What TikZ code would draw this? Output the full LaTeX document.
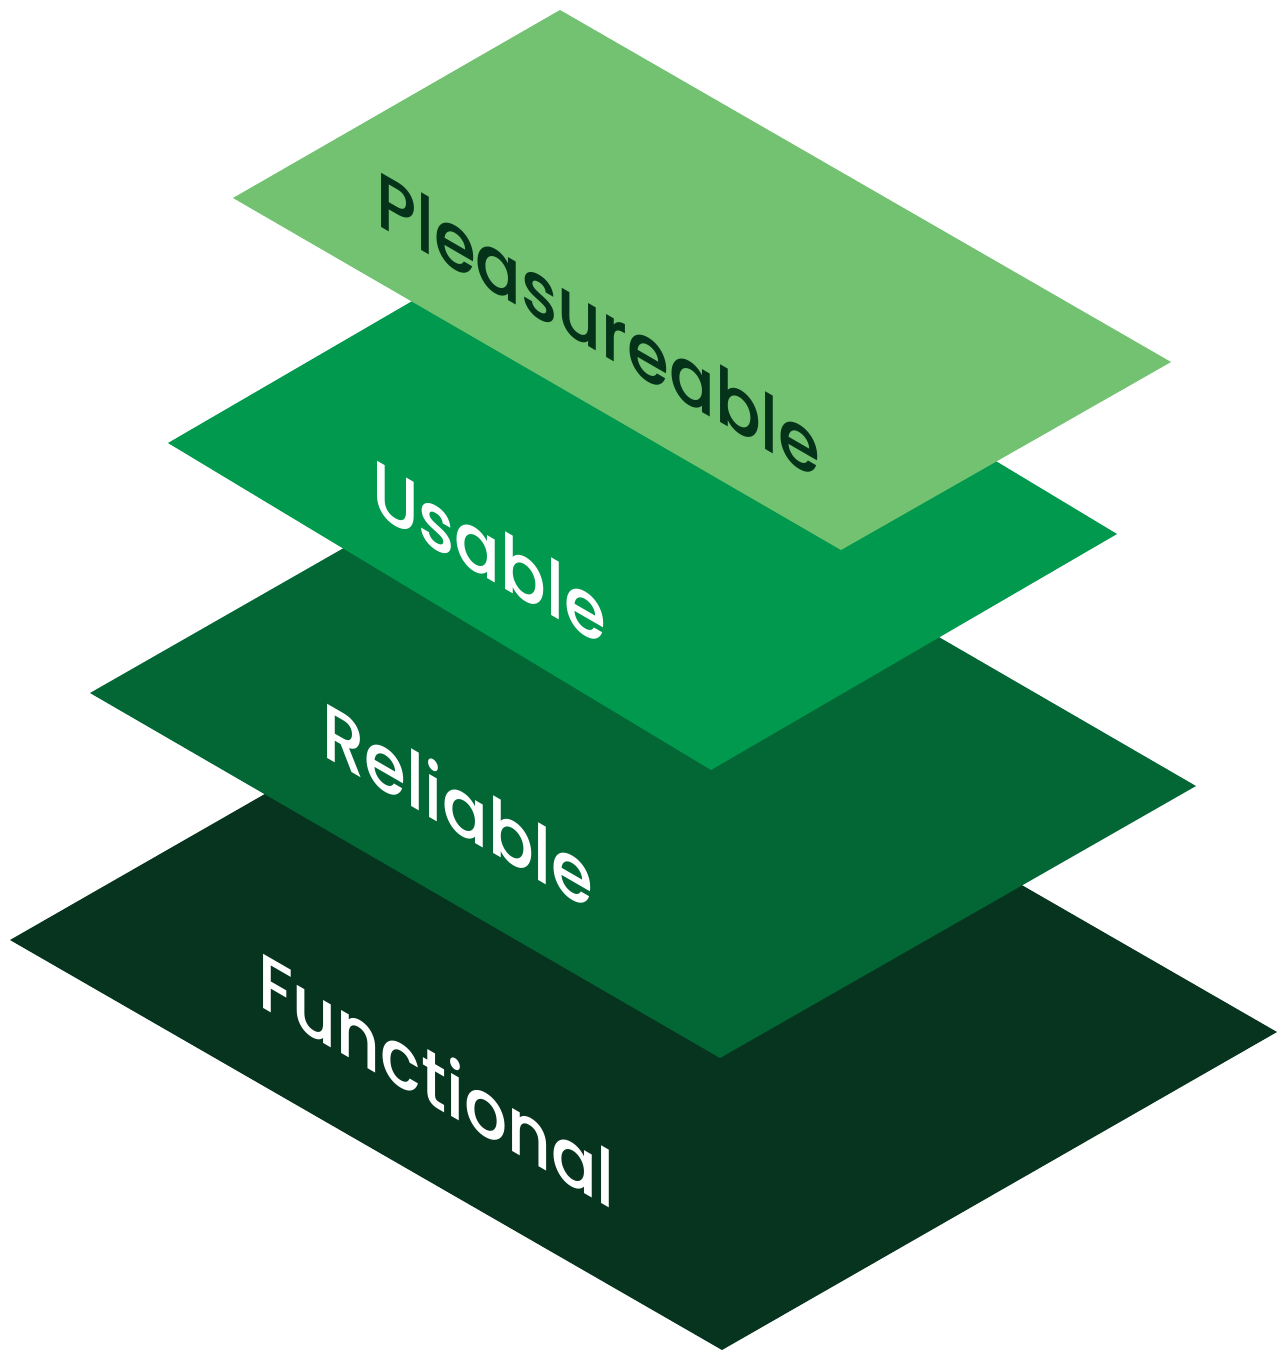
\documentclass[tikz,border=0pt]{standalone}
\usepackage{fontspec}
\newfontfamily\lblfont{Poppins Medium}
\definecolor{layerA}{HTML}{06341F}
\definecolor{layerB}{HTML}{026735}
\definecolor{layerC}{HTML}{00994D}
\definecolor{layerD}{HTML}{72C272}
\definecolor{inkdark}{HTML}{053319}
\tikzset{
  layer/.style={draw=none},
  lbl/.style={anchor=base west, inner sep=0pt, transform shape,
    font=\lblfont\fontsize{78}{78}\selectfont},
}
\begin{document}
\begin{tikzpicture}[x=1pt,y=1pt]
  \useasboundingbox (0,0) rectangle (1282,-1351);
  % stacked isometric layers, bottom to top
  \fill[layerA] (10,-940) -- (565,-622) -- (1277,-1032) -- (722,-1350) -- cycle;
  \fill[layerB] (90,-693) -- (566,-421) -- (1196,-786) -- (720,-1058) -- cycle;
  \fill[layerC] (168,-443) -- (574,-207) -- (1117,-534) -- (711,-770) -- cycle;
  \fill[layerD] (233,-198) -- (560,-10) -- (1171,-362) -- (841,-550) -- cycle;
  % labels lying on each layer
  \begin{scope}[cm={0.866,-0.5,0,1,(258,-1005)}]
    \node[lbl, text=white] (functional) at (0,0) {Functional};
  \end{scope}
  \begin{scope}[cm={0.866,-0.5,0,1,(322,-755)}]
    \node[lbl, text=white] (reliable) at (0,0) {Reliable};
  \end{scope}
  \begin{scope}[cm={0.866,-0.5,0,1,(372,-512)}]
    \node[lbl, text=white] (usable) at (0,0) {Usable};
  \end{scope}
  \begin{scope}[cm={0.866,-0.5,0,1,(376,-224)}]
    \node[lbl, text=inkdark] (pleasureable) at (0,0) {Pleasureable};
  \end{scope}
\end{tikzpicture}
\end{document}
